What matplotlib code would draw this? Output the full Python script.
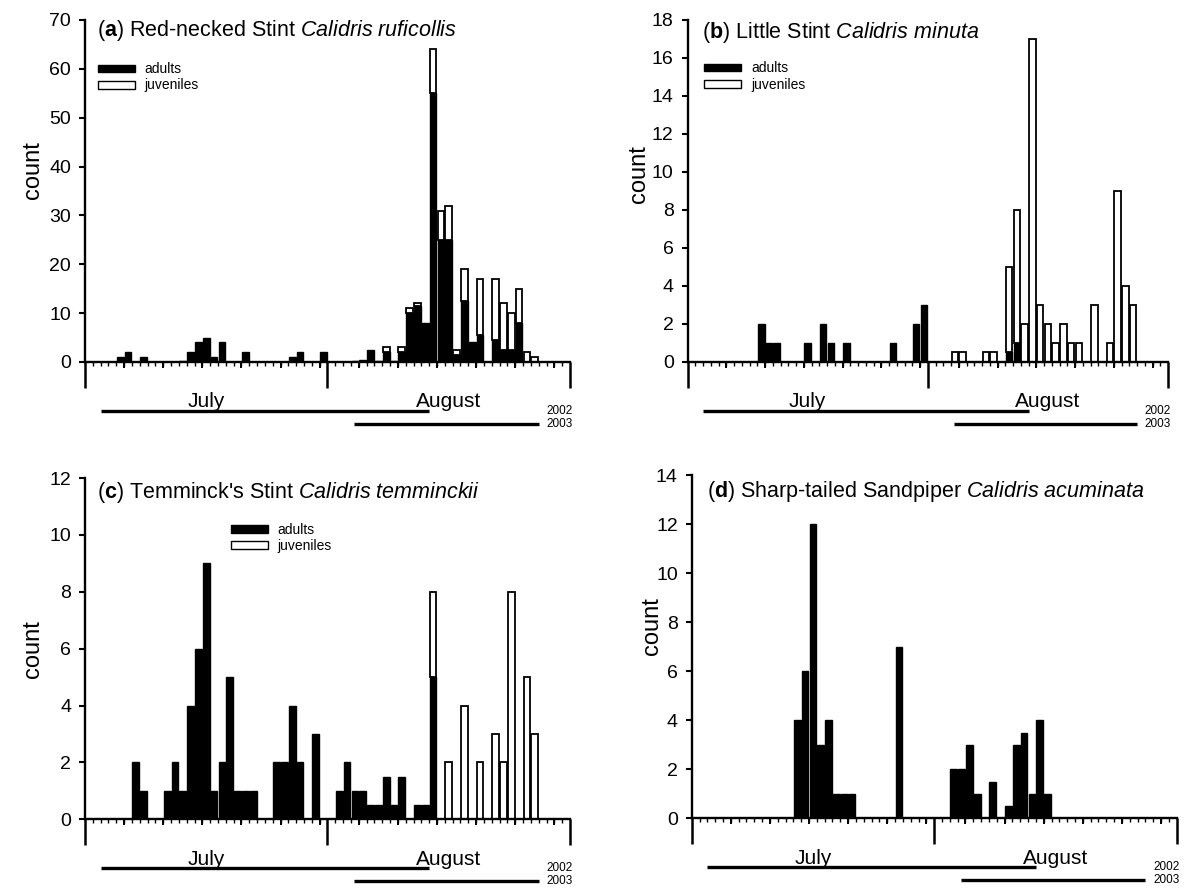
import numpy as np
import matplotlib.pyplot as plt
from matplotlib.patches import Patch
from matplotlib.transforms import blended_transform_factory

plt.rcParams['font.family'] = ['Liberation Sans', 'DejaVu Sans']
plt.rcParams['mathtext.fontset'] = 'custom'
plt.rcParams['mathtext.rm'] = 'Liberation Sans'
plt.rcParams['mathtext.it'] = 'Liberation Sans:italic'
plt.rcParams['mathtext.bf'] = 'Liberation Sans:bold'

# day index: 0 = 1 July, 31 = 1 August, 62 = 1 September
a_days = [4, 5, 7, 12, 13, 14, 15, 16, 17, 20, 26, 27, 30, 34, 35, 36, 37, 38,
          39, 40, 41, 42, 43, 44, 45, 46, 47, 48, 49, 50, 52, 53, 54, 55, 56, 57]
a_adults = [1, 2, 1, 0.3, 2, 4, 5, 1, 4, 2, 1, 2, 2, 0.3, 0.5, 2.5, 0.3, 2,
            0.3, 2, 10, 11.5, 8, 55, 25, 25, 1.5, 12.5, 4, 5.5, 4.5, 2.5, 2.5, 8, 0, 0]
a_juv = [0, 0, 0, 0, 0, 0, 0, 0, 0, 0, 0, 0, 0, 0, 0, 0, 0, 1,
         0, 1, 1, 0.5, 0, 9, 6, 7, 1, 6.5, 0, 11.5, 12.5, 9.5, 7.5, 7, 2, 1]

b_days = [9, 10, 11, 15, 17, 18, 20, 26, 29, 30, 34, 35, 38, 39, 41, 42, 43,
          44, 45, 46, 47, 48, 49, 50, 52, 54, 55, 56, 57]
b_adults = [2, 1, 1, 1, 2, 1, 1, 1, 2, 3, 0, 0, 0, 0, 0.5, 1, 0,
            0, 0, 0, 0, 0, 0, 0, 0, 0, 0, 0, 0]
b_juv = [0, 0, 0, 0, 0, 0, 0, 0, 0, 0, 0.5, 0.5, 0.5, 0.5, 4.5, 7, 2,
         17, 3, 2, 1, 2, 1, 1, 3, 1, 9, 4, 3]

c_days = [6, 7, 10, 11, 12, 13, 14, 15, 16, 17, 18, 19, 20, 21, 24, 25, 26, 27,
          29, 32, 33, 34, 35, 36, 37, 38, 39, 40, 42, 43, 44, 46, 48, 50, 52,
          53, 54, 56, 57]
c_adults = [2, 1, 1, 2, 1, 4, 6, 9, 1, 2, 5, 1, 1, 1, 2, 2, 4, 2,
            3, 1, 2, 1, 1, 0.5, 0.5, 1.5, 0.5, 1.5, 0.5, 0.5, 5, 0, 0, 0, 0,
            0, 0, 0, 0]
c_juv = [0, 0, 0, 0, 0, 0, 0, 0, 0, 0, 0, 0, 0, 0, 0, 0, 0, 0,
         0, 0, 0, 0, 0, 0, 0, 0, 0, 0, 0, 0, 3, 2, 4, 2, 3,
         2, 8, 5, 3]

d_days = [13, 14, 15, 16, 17, 18, 19, 20, 26, 33, 34, 35, 36, 38, 40, 41, 42,
          43, 44, 45]
d_adults = [4, 6, 12, 3, 4, 1, 1, 1, 7, 2, 2, 3, 1, 1.5, 0.5, 3, 3.5,
            1, 4, 1]
d_juv = [0] * len(d_days)

season_2002 = [2, 44]
season_2003 = [34.4, 58]

titles = [r"($\mathbf{a}$) Red-necked Stint $\mathit{Calidris\ ruficollis}$",
          r"($\mathbf{b}$) Little Stint $\mathit{Calidris\ minuta}$",
          r"($\mathbf{c}$) Temminck's Stint $\mathit{Calidris\ temminckii}$",
          r"($\mathbf{d}$) Sharp-tailed Sandpiper $\mathit{Calidris\ acuminata}$"]
y_max = [70, 18, 12, 14]
y_step = [10, 2, 2, 2]

panels = [
    dict(days=a_days, adults=a_adults, juv=a_juv,
         rect=[0.0718, 0.5960, 0.4096, 0.3817], ylab=(-0.084, 0.56),
         title_xy=(0.025, 0.968), legend_xy=(0.026, 0.876)),
    dict(days=b_days, adults=b_adults, juv=b_juv,
         rect=[0.5807, 0.5963, 0.4058, 0.3817], ylab=(-0.078, 0.55),
         title_xy=(0.030, 0.964), legend_xy=(0.034, 0.878)),
    dict(days=c_days, adults=c_adults, juv=c_juv,
         rect=[0.0718, 0.0856, 0.4096, 0.3809], ylab=(-0.084, 0.50),
         title_xy=(0.025, 0.959), legend_xy=(0.300, 0.868)),
    dict(days=d_days, adults=d_adults, juv=d_juv,
         rect=[0.5842, 0.0867, 0.4096, 0.3831], ylab=(-0.060, 0.56),
         title_xy=(0.032, 0.952), legend_xy=None),
]

fig = plt.figure(figsize=(11.84, 8.96), dpi=100)

for i, p in enumerate(panels):
    ax = fig.add_axes(p['rect'])
    days = np.array(p['days'], dtype=float)
    adults = np.array(p['adults'], dtype=float)
    juv = np.array(p['juv'], dtype=float)
    x = days + 0.5

    m = adults > 0
    ax.bar(x[m], adults[m], width=0.86, color='black', edgecolor='black',
           linewidth=1.0, zorder=2)
    m = juv > 0
    ax.bar(x[m], juv[m], bottom=adults[m], width=0.86, color='white',
           edgecolor='black', linewidth=1.3, zorder=2)

    ax.set_xlim(0, 62)
    ax.set_ylim(0, y_max[i])
    ax.set_yticks(np.arange(0, y_max[i] + 1, y_step[i]))
    ax.tick_params(axis='y', direction='out', length=4, width=1.5,
                   labelsize=14, pad=6)
    ax.set_xticks([0, 31, 62])
    ax.set_xticklabels([])
    ax.set_xticks([d for d in range(63) if d not in (0, 31, 62)], minor=True)
    ax.tick_params(axis='x', which='major', direction='out', length=18.5,
                   width=1.8)
    ax.tick_params(axis='x', which='minor', direction='out', length=2.8,
                   width=1.0)
    # 5-day ticks
    sec = ax.secondary_xaxis(0)
    sec.set_xticks([d for d in range(5, 61, 5)])
    sec.set_xticklabels([])
    sec.tick_params(direction='out', length=4.5, width=1.4)
    sec.spines['bottom'].set_visible(False)

    for s in ['top', 'right']:
        ax.spines[s].set_visible(False)
    for s in ['left', 'bottom']:
        ax.spines[s].set_linewidth(1.7)

    ax.set_ylabel('count', fontsize=17)
    ax.yaxis.set_label_coords(*p['ylab'])

    ax.text(p['title_xy'][0], p['title_xy'][1], titles[i], transform=ax.transAxes,
            fontsize=15.5, ha='left', va='center')

    if p['legend_xy'] is not None:
        handles = [Patch(facecolor='black', edgecolor='black', linewidth=1.0),
                   Patch(facecolor='white', edgecolor='black', linewidth=1.0)]
        ax.legend(handles, ['adults', 'juveniles'], loc='upper left',
                  bbox_to_anchor=p['legend_xy'], frameon=False, fontsize=10,
                  handlelength=2.7, handleheight=0.5, handletextpad=0.7,
                  labelspacing=0.15, borderpad=0, borderaxespad=0)

    tr = blended_transform_factory(ax.transData, ax.transAxes)
    ax.text(15.5, -0.117, 'July', transform=tr, ha='center', va='center',
            fontsize=15)
    ax.text(46.5, -0.117, 'August', transform=tr, ha='center', va='center',
            fontsize=15)
    ax.plot(season_2002, [-0.143, -0.143], transform=tr, color='black', lw=2.4,
            clip_on=False, solid_capstyle='butt')
    ax.plot(season_2003, [-0.181, -0.181], transform=tr, color='black', lw=2.4,
            clip_on=False, solid_capstyle='butt')
    ax.text(62.4, -0.143, '2002', transform=tr, ha='right', va='center',
            fontsize=8.5)
    ax.text(62.4, -0.181, '2003', transform=tr, ha='right', va='center',
            fontsize=8.5)

fig.savefig('out.png', dpi=100)
